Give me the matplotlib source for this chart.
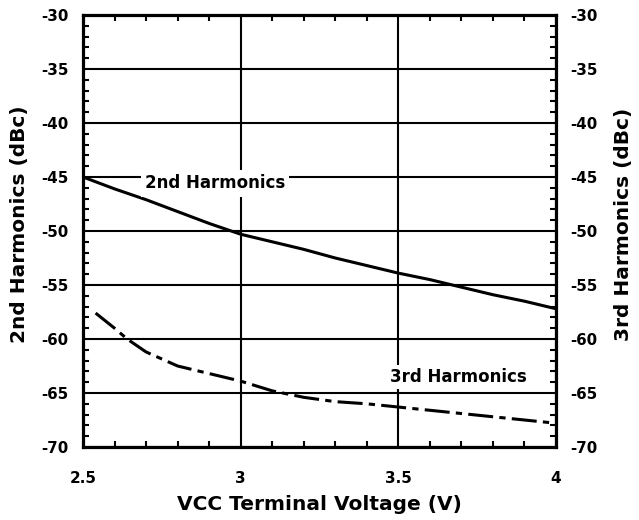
import matplotlib
matplotlib.use("Agg")
import matplotlib.pyplot as plt
from matplotlib.ticker import MultipleLocator

plt.rcParams['font.family'] = ['DejaVu Sans']
plt.rcParams['font.weight'] = 'bold'
plt.rcParams['lines.scale_dashes'] = False
plt.rcParams['axes.unicode_minus'] = False

# Data
v2 = [2.5, 2.6, 2.7, 2.8, 2.9, 3.0, 3.1, 3.2, 3.3, 3.4, 3.5, 3.6, 3.7, 3.8, 3.9, 4.0]
h2 = [-45.0, -46.1, -47.1, -48.2, -49.3, -50.3, -51.0, -51.7, -52.5, -53.2, -53.9, -54.5, -55.2, -55.9, -56.5, -57.2]
v3 = [2.54, 2.6, 2.64, 2.7, 2.8, 2.9, 3.0, 3.1, 3.2, 3.3, 3.4, 3.5, 3.6, 3.7, 3.8, 3.9, 4.0]
h3 = [-57.6, -59.0, -60.0, -61.2, -62.5, -63.2, -63.9, -64.8, -65.4, -65.8, -66.0, -66.3, -66.6, -66.9, -67.2, -67.5, -67.8]
xticks = [2.5, 3.0, 3.5, 4.0]
xticklabels = ['2.5', '3', '3.5', '4']
yticks = [-30, -35, -40, -45, -50, -55, -60, -65, -70]

fig = plt.figure(figsize=(6.39, 5.2), dpi=100)
ax = fig.add_axes([83/639, 73/520, 473/639, 432/520])

ax.plot(v2, h2, color='black', lw=2.2, solid_capstyle='butt', zorder=3)
l3, = ax.plot(v3, h3, color='black', lw=2.2, dash_capstyle='butt', zorder=3)
l3.set_dashes([18, 4.5, 4.5, 4.5])

ax.set_xlim(2.5, 4.0)
ax.set_ylim(-70, -30)
ax.set_xticks(xticks)
ax.set_xticklabels(xticklabels)
ax.set_yticks(yticks)
ax.xaxis.set_minor_locator(MultipleLocator(0.1))
ax.yaxis.set_minor_locator(MultipleLocator(1))
ax.grid(True, which='major', color='black', lw=1.5)
ax.set_axisbelow(True)

for s in ax.spines.values():
    s.set_linewidth(2.3)

ax.tick_params(which='major', direction='in', length=0, top=True, right=True,
               labelsize=10.8, labelright=True)
ax.tick_params(axis='y', which='major', pad=10.5)
ax.tick_params(axis='x', which='major', pad=17, labelsize=11)
ax.tick_params(which='minor', direction='in', length=4, width=1.5, top=True, right=True)

ax.set_xlabel('VCC Terminal Voltage (V)', fontsize=14.5, fontweight='bold')
ax.xaxis.set_label_coords(0.5, -0.112)
ax.set_ylabel('2nd Harmonics (dBc)', fontsize=14.5, fontweight='bold', va='center')
ax.yaxis.set_label_coords(-0.135, 0.516)

fig.text(623/639, 1 - 224/520, '3rd Harmonics (dBc)', rotation=90, ha='center', va='center',
         fontsize=14.5, fontweight='bold')

ax.text(2.919, -45.6, '2nd Harmonics', ha='center', va='center', fontsize=12, fontweight='bold',
        bbox=dict(facecolor='white', edgecolor='none', pad=3), zorder=4)
ax.text(3.691, -63.5, '3rd Harmonics', ha='center', va='center', fontsize=12, fontweight='bold',
        bbox=dict(facecolor='white', edgecolor='none', pad=2), zorder=4)

fig.savefig('out.png', dpi=100)
